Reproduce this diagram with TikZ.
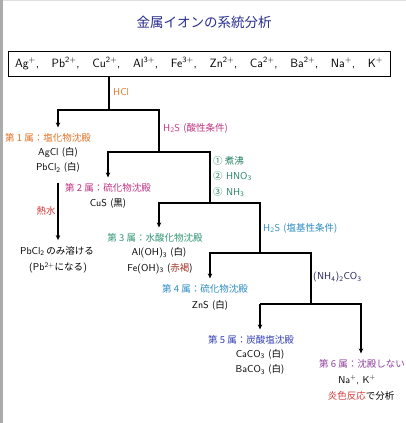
\documentclass[tikz,border=0pt]{standalone}
\usepackage{fontspec}
\newfontfamily\jp{Noto Sans CJK JP}
\usetikzlibrary{arrows.meta}
\definecolor{titleblue}{RGB}{40,45,140}
\definecolor{cOrange}{RGB}{225,115,40}
\definecolor{cMagenta}{RGB}{190,50,130}
\definecolor{cRed}{RGB}{210,60,60}
\definecolor{cTeal}{RGB}{35,130,100}
\definecolor{cGreen}{RGB}{50,150,115}
\definecolor{cBrown}{RGB}{165,50,35}
\definecolor{cSky}{RGB}{45,140,195}
\definecolor{cNavy}{RGB}{30,30,95}
\definecolor{cBlue}{RGB}{50,65,180}
\definecolor{cPurple}{RGB}{145,65,160}
\newcommand{\jtext}[1]{{\jp\fontsize{9.5}{11}\selectfont #1}}
\newcommand{\chsup}[1]{\textsuperscript{#1}}
\newcommand{\chsub}[1]{\textsubscript{#1}}
\begin{document}
\begin{tikzpicture}[x=1pt,y=-1pt,
  every node/.style={font=\sffamily\fontsize{10}{11}\selectfont, inner sep=0pt},
  jlab/.style={font=\jp\fontsize{9.5}{11}\selectfont},
  line/.style={line width=1.1pt, black},
  arr/.style={line, -{Stealth[length=5pt,width=4.5pt]}, shorten >=6pt}]
\useasboundingbox (0,0) rectangle (406,423);
\fill[gray!65] (0,0) rectangle (2.5,423);
\fill[gray!25] (2.5,0) rectangle (406,1.2);

\node[text=titleblue, font=\jp\fontsize{13.5}{15}\selectfont] (title) at (204,22) {金属イオンの系統分析};
\node[draw, line width=0.8pt, minimum width=382pt, minimum height=25pt, inner xsep=0pt] (ions) at (199,63.5)
 {\parbox{368pt}{\fontsize{12}{13}\selectfont Ag\chsup{+},\hfill Pb\chsup{2+},\hfill Cu\chsup{2+},\hfill Al\chsup{3+},\hfill Fe\chsup{3+},\hfill Zn\chsup{2+},\hfill Ca\chsup{2+},\hfill Ba\chsup{2+},\hfill Na\chsup{+},\hfill K\chsup{+}}};

% branch coordinates
\coordinate (b1) at (109,110); \coordinate (b1l) at (58,110); \coordinate (b1r) at (159,110);
\coordinate (b2) at (159,152); \coordinate (b2l) at (108,152); \coordinate (b2r) at (210,152);
\coordinate (b3) at (210,203); \coordinate (b3l) at (159,203); \coordinate (b3r) at (260,203);
\coordinate (b4) at (260,253); \coordinate (b4l) at (210,253); \coordinate (b4r) at (311,253);
\coordinate (b5) at (311,304); \coordinate (b5l) at (260,304); \coordinate (b5r) at (361,304);

% reagent labels
\node[anchor=west, text=cOrange] (hcl) at (113,92) {HCl};
\node[anchor=west, text=cMagenta] (h2sa) at (163,128) {H\chsub{2}S \jtext{(酸性条件)}};
\node[anchor=west, text=cTeal] (st1) at (213,161) {\jtext{① 煮沸}};
\node[anchor=west, text=cTeal] (st2) at (213,176) {\jtext{②} HNO\chsub{3}};
\node[anchor=west, text=cTeal] (st3) at (213,192) {\jtext{③} NH\chsub{3}};
\node[anchor=west, text=cSky] (h2sb) at (263,228) {H\chsub{2}S \jtext{(塩基性条件)}};
\node[anchor=west, text=cNavy] (nh4) at (313,277) {(NH\chsub{4})\chsub{2}CO\chsub{3}};
\node[jlab, text=cRed] (netsu) at (46,211) {熱水};

% group 1
\node[jlab, text=cOrange] (g1) at (48,138) {第 1 属：塩化物沈殿};
\node (agcl) at (58,153) {AgCl \jtext{(白)}};
\node (pbcl) at (58,167.5) {PbCl\chsub{2} \jtext{(白)}};
\node (pbonly) at (57,251) {PbCl\chsub{2}\,\jtext{のみ溶ける}};
\node (pbion) at (58,268) {(Pb\chsup{2+}\jtext{になる})};
% group 2
\node[jlab, text=cMagenta] (g2) at (108,188) {第 2 属：硫化物沈殿};
\node (cus) at (108,204) {CuS \jtext{(黒)}};
% group 3
\node[jlab, text=cGreen] (g3) at (155,238) {第 3 属：水酸化物沈殿};
\node (aloh) at (159,253) {Al(OH)\chsub{3} \jtext{(白)}};
\node (feoh) at (160,268.5) {Fe(OH)\chsub{3} \jtext{(}{\color{cBrown}\jtext{赤褐}}\jtext{)}};
% group 4
\node[jlab, text=cSky] (g4) at (205,289) {第 4 属：硫化物沈殿};
\node (zns) at (210,305) {ZnS \jtext{(白)}};
% group 5
\node[jlab, text=cBlue] (g5) at (251,340) {第 5 属：炭酸塩沈殿};
\node (caco) at (260,354) {CaCO\chsub{3} \jtext{(白)}};
\node (baco) at (260,369.5) {BaCO\chsub{3} \jtext{(白)}};
% group 6
\node[jlab, text=cPurple] (g6) at (362,364) {第 6 属：沈殿しない};
\node (nak) at (357,380) {Na\chsup{+}, K\chsup{+}};
\node (flame) at (361,395.5) {\jtext{{\color{cRed}炎色反応}で分析}};

% connectors
\draw[line] (ions.south -| b1) -- (b1);
\draw[arr] (b2) -- (b1r) -- (b1l) -- (b1l |- g1.north);
\draw[arr] (b3) -- (b2r) -- (b2l) -- (b2l |- g2.north);
\draw[arr] (b4) -- (b3r) -- (b3l) -- (b3l |- g3.north);
\draw[arr] (b5) -- (b4r) -- (b4l) -- (b4l |- g4.north);
\draw[arr] (b5l) -- (b5r) -- (b5r |- g6.north);
\draw[arr] (b5l) -- (b5l |- g5.north);
\draw[arr, shorten <=10pt] (pbcl.south -| b1l) -- (b1l |- pbonly.north);
\end{tikzpicture}
\end{document}
